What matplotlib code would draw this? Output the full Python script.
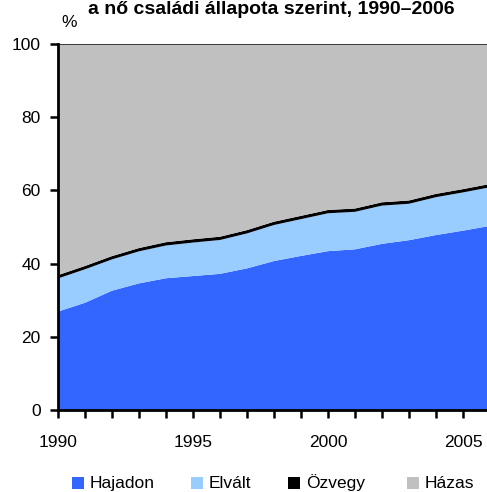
import matplotlib
matplotlib.use("Agg")
import matplotlib.pyplot as plt
from matplotlib.patches import Rectangle
import numpy as np

plt.rcParams['font.family'] = ['Liberation Sans', 'DejaVu Sans']

years = list(range(1990, 2007))
hajadon = [26.9, 29.3, 32.6, 34.6, 36.0, 36.6, 37.2, 38.7, 40.7, 42.1, 43.4, 43.9, 45.4, 46.4, 47.8, 49.0, 50.3]
elvalt_top = [36.4, 38.9, 41.6, 43.8, 45.4, 46.2, 46.9, 48.7, 51.0, 52.6, 54.2, 54.6, 56.3, 56.8, 58.6, 59.9, 61.3]
elvalt = [t - 0.45 - h for t, h in zip(elvalt_top, hajadon)]
ozvegy = [0.9] * len(years)
hazas = [100 - h - e - o for h, e, o in zip(hajadon, elvalt, ozvegy)]

labels = ['Hajadon', 'Elvált', 'Özvegy', 'Házas']
colors = ['#3366FF', '#99CCFF', '#000000', '#C0C0C0']

W, H = 487, 492
fig = plt.figure(figsize=(W/100, H/100), dpi=100)
ax = fig.add_axes([58/W, 1 - 410/H, (490 - 58)/W, (410 - 44)/H])

ax.stackplot(years, hajadon, elvalt, ozvegy, hazas, colors=colors, linewidth=0)
total = np.array(hajadon) + np.array(elvalt) + np.array(ozvegy) + np.array(hazas)
ax.plot(years, total, color='#222222', lw=1.2)
ax.set_xlim(1990, 2006)
ax.set_ylim(0, 100)
ax.set_yticks([0, 20, 40, 60, 80, 100])
ax.set_xticks(years)
ax.set_xticklabels([str(y) if y in (1990, 1995, 2000, 2005) else '' for y in years])
for s in ('top', 'right'):
    ax.spines[s].set_visible(False)
for s in ('left', 'bottom'):
    ax.spines[s].set_linewidth(2)
    ax.spines[s].set_zorder(5)
ax.tick_params(axis='both', length=6, width=1.8, labelsize=12.5, color='black')
ax.tick_params(axis='y', pad=6.5)
ax.tick_params(axis='x', pad=12)
ax.set_axisbelow(False)

fig.text(69/W, 1 - 27/H, '%', fontsize=12.5, ha='center', va='baseline')
fig.text(271/W, 1 - 14/H, 'a nő családi állapota szerint, 1990–2006', fontsize=14,
         fontweight='bold', ha='center', va='baseline')

# legend drawn manually
sq_x = [72, 191, 288, 407]
for x0, c, lab in zip(sq_x, colors, labels):
    fig.add_artist(Rectangle((x0/W, 1 - 489/H), 12/W, 12/H, facecolor=c,
                             edgecolor='none', transform=fig.transFigure))
    fig.text((x0 + 18)/W, 1 - 488/H, lab, fontsize=12.5, ha='left', va='baseline')

fig.savefig('out.png', dpi=100)
